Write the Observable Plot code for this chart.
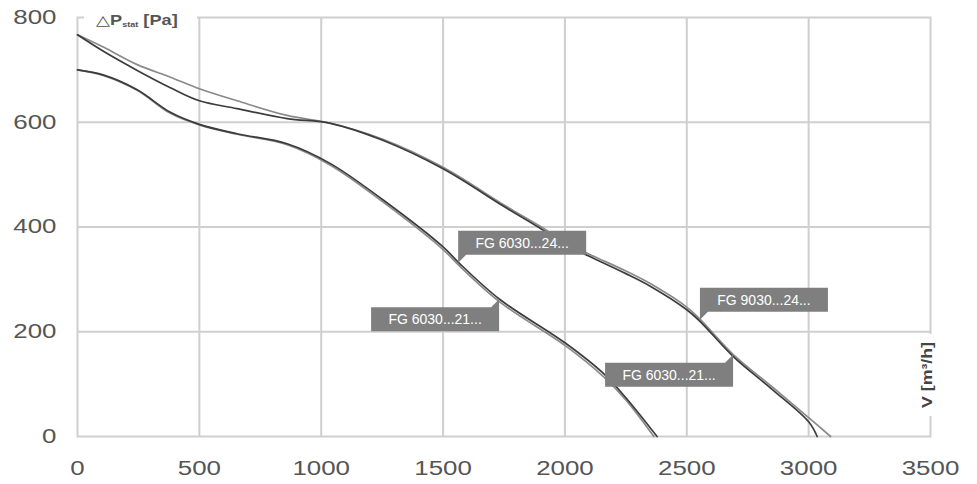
<!DOCTYPE html>
<html><head><meta charset="utf-8">
<script src="https://cdn.jsdelivr.net/npm/d3@7"></script>
<script src="https://cdn.jsdelivr.net/npm/@observablehq/plot@0.6"></script>
<style>
html,body{margin:0;padding:0;background:#fff;}
#chart svg{display:block;}
</style></head><body><div id="chart"></div>
<script>
// ---- data ----
const flowTicks = [0, 500, 1000, 1500, 2000, 2500, 3000, 3500];
const pressureTicks = [0, 200, 400, 600, 800];

const upperAFlow     = [0, 108, 245, 381, 500, 655, 860, 1038, 1250, 1500, 1750, 1900, 2000, 2100, 2250, 2350, 2500, 2556, 2692, 2850, 3000, 3090];
const upperAPressure = [767, 743, 710, 686, 664, 641, 613, 598, 568, 514, 442, 401, 371, 348, 316, 292, 247, 223, 156, 95, 36, 0];

const upperBFlow     = [0, 108, 245, 381, 500, 655, 860, 1038, 1250, 1500, 1750, 1900, 2000, 2100, 2250, 2350, 2500, 2556, 2692, 2850, 3000, 3035];
const upperBPressure = [767, 735, 699, 666, 641, 626, 607, 598, 566, 511, 439, 397, 366, 344, 311, 287, 242, 219, 152, 90, 28, 0];

const lowerAFlow     = [0, 108, 245, 381, 500, 655, 860, 1038, 1250, 1500, 1564, 1732, 2000, 2159, 2250, 2378];
const lowerAPressure = [700, 690, 662, 619, 596, 578, 559, 521, 453, 362, 332, 262, 179, 120, 74, 0];

const lowerBFlow     = [0, 108, 245, 381, 500, 655, 860, 1038, 1250, 1500, 1564, 1732, 2000, 2159, 2250, 2365];
const lowerBPressure = [700, 689, 661, 617, 595, 577, 557, 518, 449, 357, 327, 257, 174, 114, 70, 0];

const calloutLabels   = ["FG 6030...24...", "FG 6030...21...", "FG 9030...24...", "FG 6030...21..."];
const calloutFlow     = [1564, 1732, 2556, 2692];
const calloutPressure = [331, 261, 222, 155];
const calloutAnchor   = ["bottom-left", "top-right", "bottom-left", "top-right"];

const titleMain = "△P";
const titleSub = "stat";
const titleUnit = " [Pa]";
const flowLabel = "V [m³/h]";

// ---- build rows ----
const toRows = (fs, ps) => fs.map((f, i) => ({flow: f, pressure: ps[i]}));

const plot = Plot.plot({
  width: 977,
  height: 484,
  marginLeft: 77,
  marginRight: 47,
  marginTop: 17,
  marginBottom: 48,
  style: {fontFamily: "'Liberation Sans', Arial, sans-serif", fontSize: "20px", color: "#555", background: "#fff"},
  x: {domain: [0, 3500], label: null},
  y: {domain: [0, 800], label: null},
  marks: [
    Plot.gridX(flowTicks.slice(1, -1), {stroke: "#cfcfcf", strokeOpacity: 1, strokeWidth: 2}),
    Plot.gridY(pressureTicks.slice(1, -1), {stroke: "#cfcfcf", strokeOpacity: 1, strokeWidth: 2}),
    Plot.frame({stroke: "#cfcfcf", strokeWidth: 2}),
    Plot.line(toRows(upperAFlow, upperAPressure), {x: "flow", y: "pressure", stroke: "#8a8a8a", strokeWidth: 1.7, curve: "catmull-rom"}),
    Plot.line(toRows(upperBFlow, upperBPressure), {x: "flow", y: "pressure", stroke: "#3c3c3c", strokeWidth: 1.7, curve: "catmull-rom"}),
    Plot.line(toRows(lowerBFlow, lowerBPressure), {x: "flow", y: "pressure", stroke: "#8a8a8a", strokeWidth: 1.7, curve: "catmull-rom"}),
    Plot.line(toRows(lowerAFlow, lowerAPressure), {x: "flow", y: "pressure", stroke: "#3c3c3c", strokeWidth: 1.7, curve: "catmull-rom"}),
    Plot.axisX(flowTicks, {tickSize: 0, tickPadding: 24, label: null, tickFormat: d => String(d)}),
    Plot.axisY(pressureTicks, {tickSize: 0, tickPadding: 21, label: null, tickFormat: d => String(d)})
  ]
});

document.getElementById("chart").appendChild(plot);
const svg = d3.select(plot);

// stretch tick labels horizontally (reference glyphs are wide)
svg.selectAll('g[aria-label="x-axis tick label"] text, g[aria-label="y-axis tick label"] text').each(function() {
  const t = this.textContent;
  d3.select(this).attr("textLength", t.length * 14.4).attr("lengthAdjust", "spacingAndGlyphs");
});

const sx = plot.scale("x"), sy = plot.scale("y");
const frameLeft = sx.apply(0), frameRight = sx.apply(3500), frameTop = sy.apply(800), frameBottom = sy.apply(0);

const overlay = svg.append("g");

// title over a gap in the top frame line
overlay.append("rect").attr("x", frameLeft + 7).attr("y", frameTop - 9).attr("width", 113).attr("height", 18).attr("fill", "#fff");
const title = overlay.append("text")
  .attr("transform", `translate(${frameLeft + 19},${frameTop + 8}) scale(1.3,1)`)
  .attr("text-anchor", "start")
  .attr("font-family", "'Liberation Sans', Arial, 'DejaVu Sans', sans-serif")
  .attr("font-weight", "bold").attr("font-size", 14).attr("fill", "#555");
title.append("tspan").attr("font-family", "'DejaVu Sans', sans-serif").attr("font-weight", "normal").text(titleMain.slice(0, 1));
title.append("tspan").text(titleMain.slice(1));
title.append("tspan").attr("font-size", 7).attr("dy", 2).text(titleSub);
title.append("tspan").attr("dy", -2).text(titleUnit);

// flow unit label over a gap in the right frame line
overlay.append("rect").attr("x", frameRight - 12).attr("y", frameBottom - 102).attr("width", 24).attr("height", 82).attr("fill", "#fff");
overlay.append("text")
  .attr("transform", `translate(${frameRight + 2},${frameBottom - 61}) rotate(-90)`)
  .attr("text-anchor", "middle")
  .attr("font-family", "'Liberation Sans', Arial, sans-serif")
  .attr("font-weight", "bold").attr("font-size", 14).attr("fill", "#444")
  .attr("textLength", 66).attr("lengthAdjust", "spacingAndGlyphs")
  .text(flowLabel);

// callouts
const W = 128, H = 24, M = 8;
calloutLabels.forEach((lab, i) => {
  const px = sx.apply(calloutFlow[i]), py = sy.apply(calloutPressure[i]);
  const g = overlay.append("g");
  let d, cx, cy;
  if (calloutAnchor[i] === "bottom-left") {
    d = `M${px},${py}l${M},${-M}h${W - M}v${-H}h${-W}z`;
    cx = px + W / 2; cy = py - M - H / 2;
  } else {
    d = `M${px},${py}l${-M},${M}h${-(W - M)}v${H}h${W}z`;
    cx = px - W / 2; cy = py + M + H / 2;
  }
  g.append("path").attr("d", d).attr("fill", "#7f7f7f");
  g.append("text").attr("x", cx).attr("y", cy + 5)
    .attr("text-anchor", "middle")
    .attr("font-family", "'Liberation Sans', Arial, sans-serif")
    .attr("font-size", 14).attr("fill", "#fff")
    .text(lab);
});
</script>
</body></html>
